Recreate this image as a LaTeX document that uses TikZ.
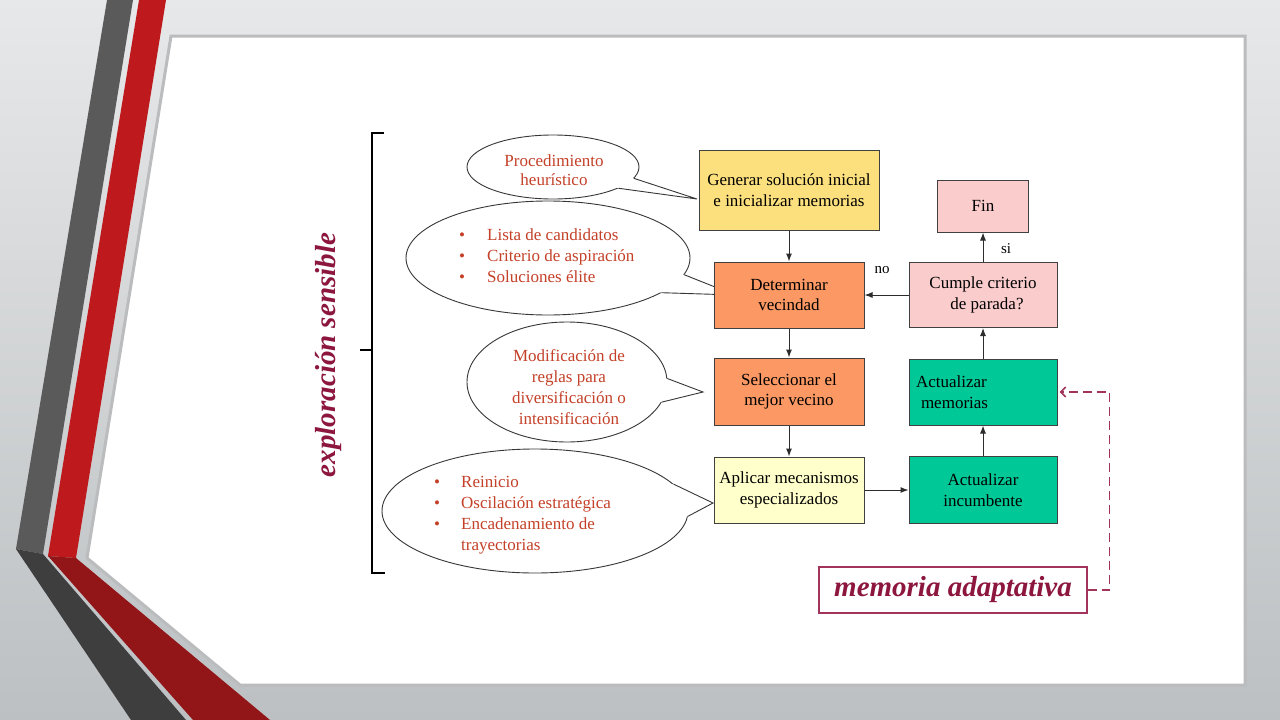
\documentclass[tikz,border=0pt]{standalone}
\usepackage{fontspec}
\setmainfont{Liberation Serif}
\usetikzlibrary{shapes.geometric,arrows.meta,calc}
\definecolor{bgtop}{RGB}{231,232,233}
\definecolor{bgbot}{RGB}{188,192,194}
\definecolor{grayup}{RGB}{90,90,91}
\definecolor{graylow}{RGB}{62,62,63}
\definecolor{redup}{RGB}{190,26,30}
\definecolor{redlow}{RGB}{146,22,24}
\definecolor{panelframe}{RGB}{186,188,190}
\definecolor{boxline}{RGB}{64,64,64}
\definecolor{arrline}{RGB}{45,45,45}
\definecolor{ellline}{RGB}{55,55,55}
\definecolor{calltxt}{RGB}{196,64,40}
\definecolor{maroon}{RGB}{140,22,62}
\definecolor{adaptline}{RGB}{162,52,92}
\definecolor{fgold}{RGB}{252,224,126}
\definecolor{forange}{RGB}{251,152,99}
\definecolor{fpink}{RGB}{250,204,204}
\definecolor{fgreen}{RGB}{0,200,150}
\definecolor{fcream}{RGB}{255,255,204}
\begin{document}
\begin{tikzpicture}[x=1pt,y=-1pt,
  box/.style={draw=boxline, line width=1pt, inner sep=2pt, align=center,
    font=\fontsize{17}{20.5}\selectfont, text=black},
  arr/.style={draw=arrline, line width=1pt, -{Latex[length=8pt,width=6pt]}},
  callout/.style={ellipse, draw=ellline, line width=0.9pt, fill=white, inner sep=0pt},
  ctext/.style={text=calltxt, font=\fontsize{17}{21}\selectfont, inner sep=0pt},
  tailfill/.style={fill=white},
  tailline/.style={draw=ellline, line width=0.9pt},
  lbl/.style={font=\fontsize{15}{15}\selectfont, inner sep=0pt, text=black},
  adaptarrow/.style={draw=adaptline, line width=1.6pt, dash pattern=on 9pt off 5pt,
    -{Straight Barb[length=5pt,width=10pt]}, shorten >=2pt}
]
\useasboundingbox (0,0) rectangle (1280,720);
% background
\shade[top color=bgtop, bottom color=bgbot] (0,0) rectangle (1280,720);
% left bands
\fill[grayup] (107,0) -- (133,0) -- (43,554) -- (16,549) -- cycle;
\fill[graylow] (16,549) -- (43,554) -- (186,720) -- (131,720) -- cycle;
\fill[redup] (139,0) -- (166,0) -- (76,558) -- (48,556) -- cycle;
\fill[redlow] (48,556) -- (76,558) -- (270,720) -- (193,720) -- cycle;
% panel
\draw[draw=panelframe, line width=3pt, fill=white]
  (171,36) -- (1245,36) -- (1245,685) -- (240,685) -- (87,558) -- cycle;

% bracket
\draw[line width=1.5pt, black] (384,133) -- (372,133) -- (372,573) -- (385,573);
\draw[line width=1.5pt, black] (372,350) -- (360,350);
\node[rotate=90, text=maroon, font=\bfseries\itshape\fontsize{29}{29}\selectfont, inner sep=0pt]
  (explo) at (329,355) {exploración sensible};

% callout ellipses
\node[callout, minimum width=172pt, minimum height=64pt] (e1) at (553,167) {};
\node[callout, minimum width=284pt, minimum height=114pt] (e2) at (548,258) {};
\node[callout, minimum width=200pt, minimum height=120pt] (e3) at (567,382) {};
\node[callout, minimum width=306pt, minimum height=124pt] (e4) at (535,511) {};

\coordinate (t1) at (697,199);
\coordinate (t2) at (735,295);
\coordinate (t3) at (703,392);
\coordinate (t4) at (713,503);

% tails
\fill[tailfill] (e1.-8) -- (t1) -- (e1.-18) -- ($(e1.-18)!0.12!(e1.center)$) -- ($(e1.-8)!0.12!(e1.center)$) -- cycle;
\draw[tailline] (e1.-8) -- (t1) -- (e1.-18);
\fill[tailfill] (e2.-7) -- (t2) -- (e2.-17) -- ($(e2.-17)!0.1!(e2.center)$) -- ($(e2.-7)!0.1!(e2.center)$) -- cycle;
\draw[tailline] (e2.-7) -- (t2) -- (e2.-17);
\fill[tailfill] (e3.2) -- (t3) -- (e3.-12) -- ($(e3.-12)!0.1!(e3.center)$) -- ($(e3.2)!0.1!(e3.center)$) -- cycle;
\draw[tailline] (e3.2) -- (t3) -- (e3.-12);
\fill[tailfill] (e4.11) -- (t4) -- (e4.-2) -- ($(e4.-2)!0.08!(e4.center)$) -- ($(e4.11)!0.08!(e4.center)$) -- cycle;
\draw[tailline] (e4.11) -- (t4) -- (e4.-2);

% callout texts
\node[ctext, align=center, font=\fontsize{17}{19.5}\selectfont] (c1) at (554,170) {Procedimiento\\heurístico};
\node[ctext, align=left, anchor=west] (c2) at (459,256)
  {\makebox[28pt][l]{\textbullet}Lista de candidatos\\
   \makebox[28pt][l]{\textbullet}Criterio de aspiración\\
   \makebox[28pt][l]{\textbullet}Soluciones élite};
\node[ctext, align=center] (c3) at (569,387)
  {Modificación de\\reglas para\\diversificación o\\intensificación};
\node[ctext, align=left, anchor=west] (c4) at (434,515)
  {\makebox[27pt][l]{\textbullet}Reinicio\\
   \makebox[27pt][l]{\textbullet}Oscilación estratégica\\
   \makebox[27pt][l]{\textbullet}Encadenamiento de\\
   \makebox[27pt][l]{}trayectorias};

% process boxes
\node[box, fill=fgold, minimum width=180pt, minimum height=80pt] (gen) at (789,190)
  {Generar solución inicial\\e inicializar memorias};
\node[box, fill=forange, minimum width=150pt, minimum height=66pt] (det) at (789,295)
  {Determinar\\vecindad};
\node[box, fill=forange, minimum width=150pt, minimum height=67pt] (sel) at (789,391.5)
  {Seleccionar el\\mejor vecino};
\node[box, fill=fcream, minimum width=150pt, minimum height=66pt] (apl) at (789,490)
  {Aplicar mecanismos\\especializados};
\node[box, fill=fpink, minimum width=91pt, minimum height=52pt] (fin) at (983,206) {Fin};
\node[box, fill=fpink, minimum width=148pt, minimum height=65pt] (cum) at (983,295)
  {Cumple criterio\\\hspace{8pt}de parada?};
\node[box, fill=fgreen, minimum width=148pt, minimum height=66pt, text width=134pt, align=left] (mem) at (983,392)
  {Actualizar\\\hspace{5pt}memorias};
\node[box, fill=fgreen, minimum width=148pt, minimum height=67pt] (inc) at (983,490)
  {Actualizar\\incumbente};

% connectors
\draw[arr] (gen.south) -- (det.north);
\draw[arr] (det.south) -- (sel.north);
\draw[arr] (sel.south) -- (apl.north);
\draw[arr] (apl.east) -- (inc.west);
\draw[arr] (inc.north) -- (mem.south);
\draw[arr] (mem.north) -- (cum.south);
\draw[arr] (cum.north) -- (fin.south);
\draw[arr] (cum.west) -- (det.east);
\node[lbl] (nolbl) at (882,270) {no};
\node[lbl] (silbl) at (1006,249) {si};

% memoria adaptativa
\node[draw=adaptline, line width=1.2pt, minimum width=268pt, minimum height=46pt, inner sep=0pt,
  text=maroon, font=\bfseries\itshape\fontsize{29}{29}\selectfont] (madapt) at (953,590)
  {memoria adaptativa};
\draw[adaptarrow] (madapt.east) -- ++(22,0) |- (mem.east);
\end{tikzpicture}
\end{document}
